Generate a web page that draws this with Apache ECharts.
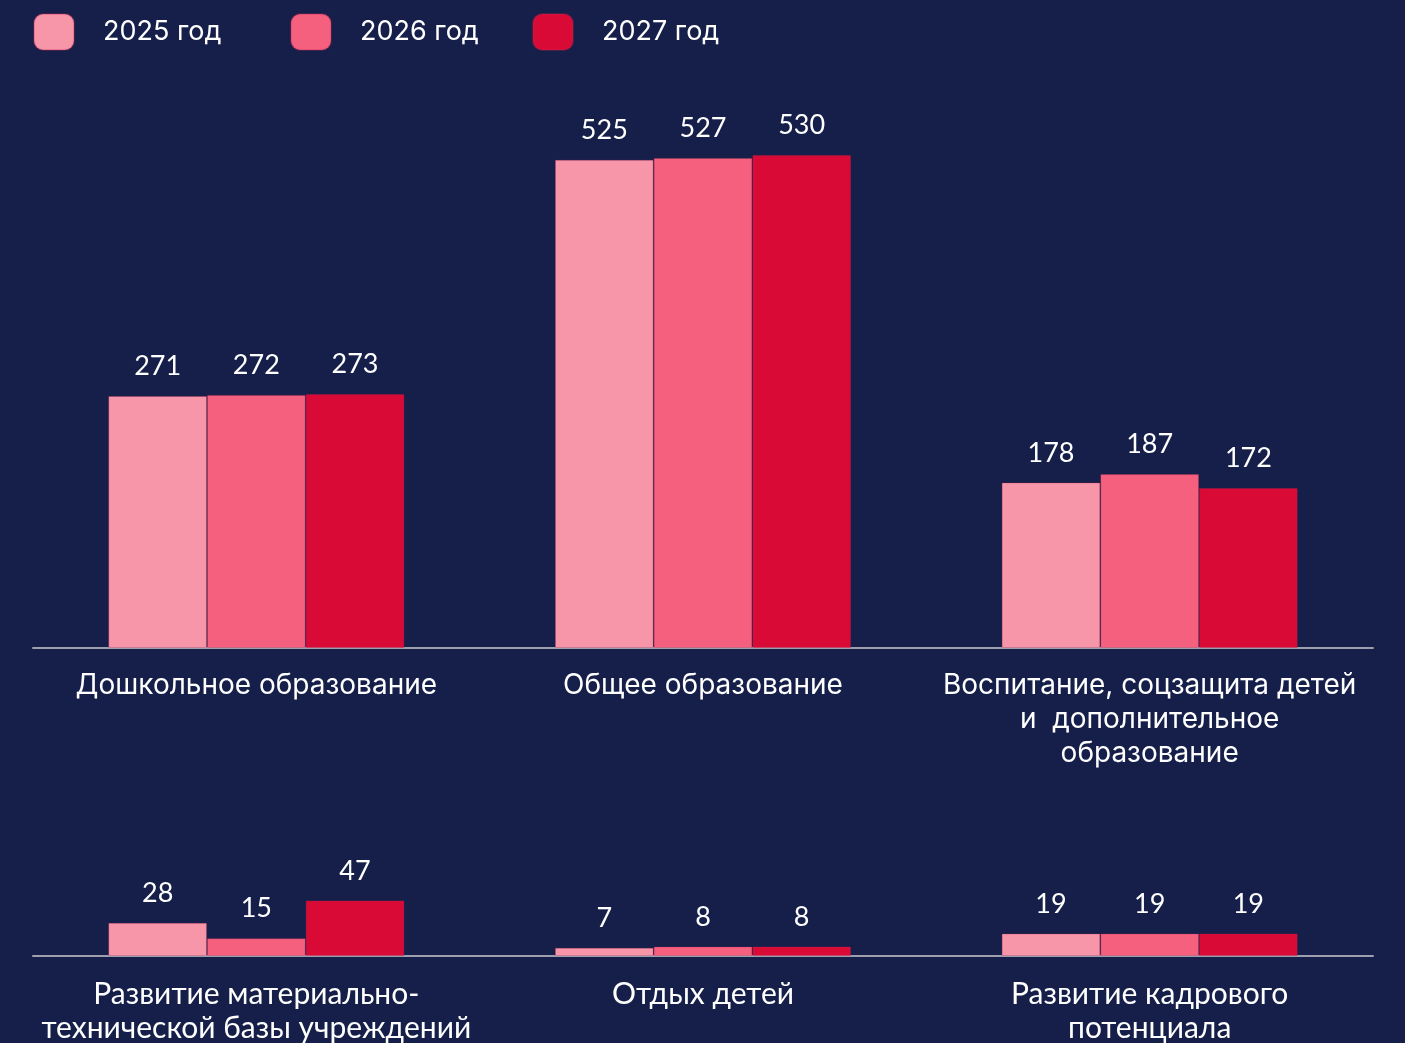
<!DOCTYPE html>
<html>
<head>
<meta charset="utf-8">
<script src="https://cdn.jsdelivr.net/npm/echarts@6/dist/echarts.min.js"></script>
<style>
  html, body { margin: 0; padding: 0; background: #151f49; }
  #chart { width: 1405px; height: 1043px; }
</style>
</head>
<body>
<div id="chart"></div>
<script>
const years = ["2025 год", "2026 год", "2027 год"];
const colors = ["#f795a9", "#f5607f", "#d90b36"];

const topCategories = [
  "Дошкольное образование",
  "Общее образование",
  "Воспитание, соцзащита детей\nи  дополнительное\nобразование"
];
const top2025 = [271, 525, 178];
const top2026 = [272, 527, 187];
const top2027 = [273, 530, 172];

const bottomCategories = [
  "Развитие материально-\nтехнической базы учреждений",
  "Отдых детей",
  "Развитие кадрового\nпотенциала"
];
const bottom2025 = [28, 7, 19];
const bottom2026 = [15, 8, 19];
const bottom2027 = [47, 8, 19];

const textFont = "Inter";
const numFont = "Lato";

function xAxisFor(gridIndex, data, font, size) {
  return {
    type: "category",
    gridIndex: gridIndex,
    data: data,
    axisLine: { lineStyle: { color: "#9d9fae", width: 2 } },
    axisTick: { show: false },
    axisLabel: {
      color: "#ffffff",
      fontFamily: font,
      fontSize: size,
      lineHeight: 34,
      margin: 21,
      interval: 0
    }
  };
}

function yAxisFor(gridIndex, max) {
  return {
    type: "value",
    gridIndex: gridIndex,
    min: 0,
    max: max,
    show: false,
    splitLine: { show: false }
  };
}

function barSeries(name, idx, gridIndex, data) {
  return {
    name: name,
    type: "bar",
    xAxisIndex: gridIndex,
    yAxisIndex: gridIndex,
    data: data,
    barWidth: 98.7,
    barGap: "0%",
    itemStyle: {
      color: colors[idx],
      borderColor: "rgba(200,40,80,0.25)",
      borderWidth: 1
    },
    label: {
      show: true,
      position: "top",
      distance: 16,
      color: "#ffffff",
      fontFamily: numFont,
      fontSize: 27
    }
  };
}

const legendLefts = [33, 290, 532];

const option = {
  backgroundColor: "#151f49",
  animation: false,
  legend: years.map((y, i) => ({
    data: [y],
    left: legendLefts[i],
    top: 13,
    padding: 0,
    icon: "roundRect",
    itemWidth: 40,
    itemHeight: 36,
    selectedMode: false,
    textStyle: {
      color: "#ffffff",
      fontFamily: textFont,
      fontSize: 27,
      padding: [0, 0, 0, 24]
    }
  })),
  grid: [
    { left: 33, right: 32, top: 90, height: 558, outerBoundsMode: "none" },
    { left: 33, right: 32, top: 885, height: 71, outerBoundsMode: "none" }
  ],
  xAxis: [
    xAxisFor(0, topCategories, textFont, 28),
    xAxisFor(1, bottomCategories, "Lato", 30)
  ],
  yAxis: [yAxisFor(0, 600), yAxisFor(1, 60)],
  series: [
    barSeries(years[0], 0, 0, top2025),
    barSeries(years[1], 1, 0, top2026),
    barSeries(years[2], 2, 0, top2027),
    barSeries(years[0], 0, 1, bottom2025),
    barSeries(years[1], 1, 1, bottom2026),
    barSeries(years[2], 2, 1, bottom2027)
  ]
};

const chart = echarts.init(document.getElementById("chart"));
chart.setOption(option);
</script>
</body>
</html>
